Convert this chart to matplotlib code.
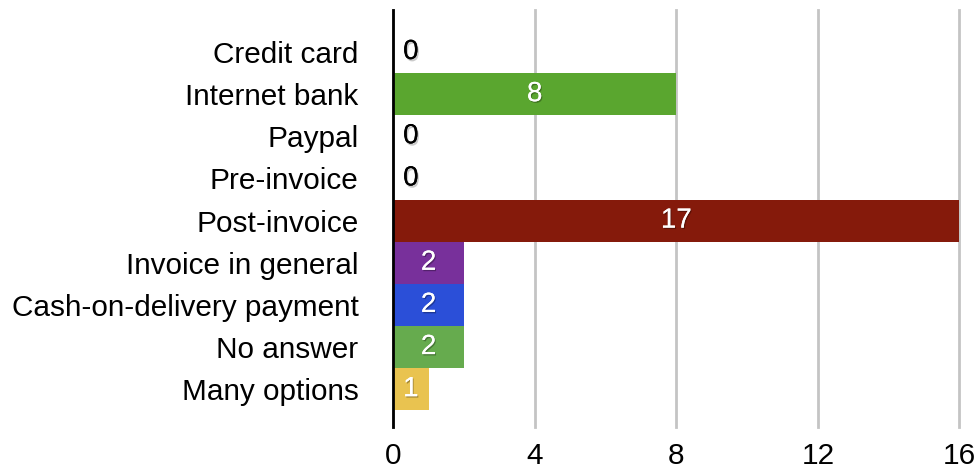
import matplotlib.pyplot as plt
import matplotlib.patheffects as pe

# payment methods, top to bottom
methods = ['Credit card', 'Internet bank', 'Paypal', 'Pre-invoice', 'Post-invoice',
           'Invoice in general', 'Cash-on-delivery payment', 'No answer', 'Many options']
answers = [0, 8, 0, 0, 17, 2, 2, 2, 1]
colors = ['#5aa62f', '#5aa62f', '#5aa62f', '#5aa62f', '#851a0b',
          '#78309b', '#2b4fd8', '#66ab4e', '#e9c350']
xticks = [0, 4, 8, 12, 16]
xmax = 16

plt.rcParams['font.family'] = ['Liberation Sans', 'DejaVu Sans']

fig = plt.figure(figsize=(9.78, 4.72), dpi=100)
ax = fig.add_axes([0.402, 0.095, 0.579, 0.884])

ypos = list(range(len(methods) - 1, -1, -1))
ax.barh(ypos, answers, height=1.0, color=colors, zorder=2)

# value labels centred in the visible part of each bar
for y, v in zip(ypos, answers):
    x = max(min(v, xmax) / 2, 0.5)
    if v == 0:
        ax.text(x, y, str(v), ha='center', va='center', fontsize=20, color='black', zorder=3,
                path_effects=[pe.withSimplePatchShadow(offset=(1, -1.5), shadow_rgbFace='#999999', alpha=0.5),
                              pe.Normal()])
    else:
        ax.text(x, y, str(v), ha='center', va='center', fontsize=20, color='white', zorder=3,
                path_effects=[pe.withSimplePatchShadow(offset=(0.8, -1), shadow_rgbFace='black', alpha=0.3),
                              pe.Normal()])

ax.set_xlim(0, xmax)
ax.set_ylim(-0.9, 9)
ax.set_xticks(xticks)
ax.set_yticks(ypos)
ax.set_yticklabels(methods)
ax.tick_params(axis='both', length=0, labelsize=21.4)
ax.tick_params(axis='y', pad=25)
ax.tick_params(axis='x', pad=11)

ax.grid(axis='x', color='#c4c4c4', linewidth=2, zorder=1)
for line in ax.get_xgridlines():
    line.set_clip_on(False)
for s in ['top', 'right', 'bottom']:
    ax.spines[s].set_visible(False)
ax.spines['left'].set_linewidth(2)
ax.spines['left'].set_zorder(4)

fig.savefig('out.png', dpi=100)
